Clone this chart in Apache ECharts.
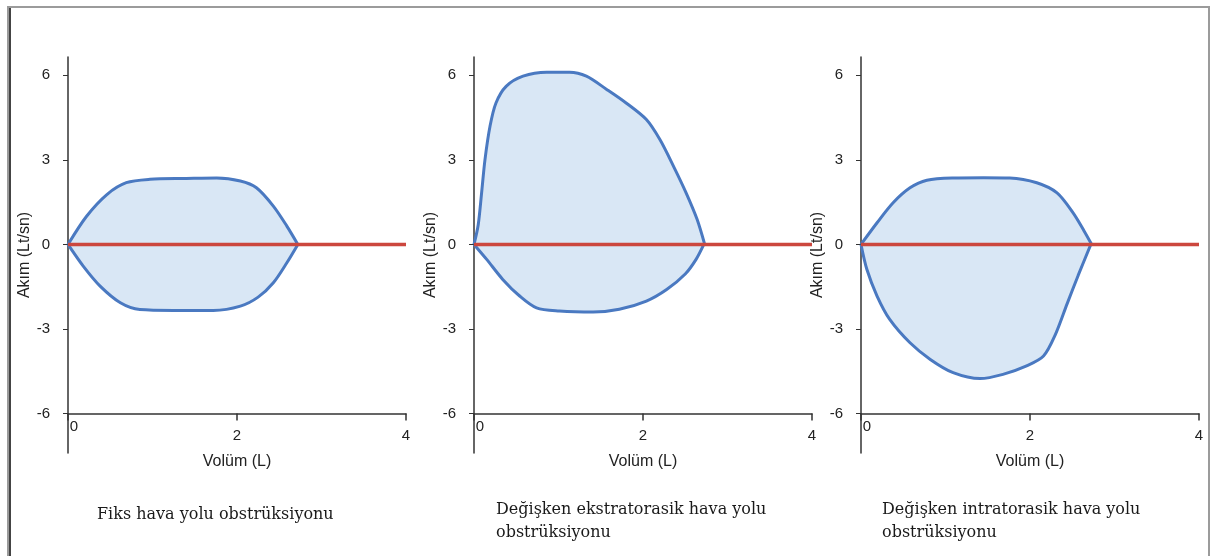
<!DOCTYPE html>
<html>
<head>
<meta charset="utf-8">
<script src="https://cdn.jsdelivr.net/npm/echarts@6/dist/echarts.min.js"></script>
<style>
  html, body { margin: 0; padding: 0; background: #fff; }
  #frame { position: absolute; left: 7px; top: 6px; width: 1199px; height: 560px;
           border: 2px solid #9b9b9b; box-shadow: inset 2px 0 0 #444; }
  #main { position: absolute; left: 0; top: 0; width: 1211px; height: 556px; }
</style>
</head>
<body>
<div id="frame"></div>
<div id="main"></div>
<script>
// [volume (L), flow (Lt/sn)]
var fiksUpper = [[0,0],[0.22,1.0],[0.46,1.77],[0.69,2.19],[0.97,2.31],[1.40,2.34],[1.76,2.36],[2.04,2.25],[2.23,2.01],[2.43,1.36],[2.59,0.65],[2.72,0]];
var fiksLower = [[0,0],[0.18,-0.77],[0.38,-1.48],[0.62,-2.07],[0.85,-2.31],[1.25,-2.34],[1.72,-2.34],[2.04,-2.19],[2.25,-1.87],[2.43,-1.36],[2.59,-0.65],[2.72,0]];

var ekstraUpper = [[0,0],[0.05,0.7],[0.09,1.83],[0.13,3.01],[0.19,4.20],[0.26,5.02],[0.38,5.61],[0.58,5.97],[0.86,6.11],[1.13,6.11],[1.33,5.97],[1.57,5.50],[1.80,5.02],[2.04,4.43],[2.20,3.72],[2.36,2.78],[2.51,1.83],[2.64,0.89],[2.73,0]];
var ekstraLower = [[0,0],[0.15,-0.53],[0.34,-1.24],[0.54,-1.83],[0.74,-2.25],[1.01,-2.36],[1.41,-2.40],[1.72,-2.30],[2.04,-2.01],[2.28,-1.60],[2.50,-1.05],[2.63,-0.52],[2.72,0]];

var intraUpper = [[0,0],[0.19,0.77],[0.38,1.48],[0.58,2.01],[0.78,2.28],[1.09,2.36],[1.45,2.37],[1.76,2.36],[2.08,2.19],[2.32,1.83],[2.51,1.12],[2.64,0.48],[2.73,0]];
var intraLower = [[0,0],[0.07,-0.89],[0.19,-1.83],[0.34,-2.66],[0.58,-3.49],[0.82,-4.08],[1.09,-4.55],[1.41,-4.76],[1.68,-4.61],[1.96,-4.31],[2.16,-3.96],[2.30,-3.20],[2.44,-2.10],[2.57,-1.10],[2.72,0]];

var baseline = [[0,0],[4,0]];
var yTicks = [-6, -3, 0, 3, 6];
var xTicks = [0, 2, 4];
var captions = [
    'Fiks hava yolu obstrüksiyonu',
    'Değişken ekstratorasik hava yolu\nobstrüksiyonu',
    'Değişken intratorasik hava yolu\nobstrüksiyonu'
];
var panels = [[fiksUpper, fiksLower], [ekstraUpper, ekstraLower], [intraUpper, intraLower]];

var myChart = echarts.init(document.getElementById('main'));
var gridLefts = [68, 474, 861];
var captionLefts = [97, 496, 882];
var captionTops = [503, 498, 498];

var grid = [], xAxis = [], yAxis = [], series = [], title = [];
var axisColor = '#333';
var labelStyle = {fontFamily: 'Liberation Sans', fontSize: 15, color: '#222'};
var nameStyle = {fontFamily: 'Liberation Sans', fontSize: 16, color: '#222'};

for (var i = 0; i < 3; i++) {
    grid.push({left: gridLefts[i], width: 338, top: 57, height: 396});
    // main x axis sits on y = -6
    xAxis.push({
        type: 'value', gridIndex: i, min: 0, max: 4, position: 'bottom', offset: -39.5,
        name: 'Volüm (L)', nameLocation: 'middle', nameGap: 40,
        nameTextStyle: nameStyle,
        splitLine: {show: false},
        axisLine: {show: true, onZero: false, lineStyle: {color: axisColor, width: 1.5}},
        axisTick: {show: true, length: 7, customValues: xTicks, lineStyle: {color: axisColor, width: 1.5}},
        axisLabel: Object.assign({margin: 15, customValues: [2, 4]}, labelStyle)
    });
    // the "0" volume label sits tucked under the origin
    xAxis.push({
        type: 'value', gridIndex: i, min: 0, max: 4, position: 'bottom', offset: -39.5,
        splitLine: {show: false}, axisLine: {show: false, onZero: false}, axisTick: {show: false},
        axisLabel: Object.assign({margin: 6, padding: [0, 0, 0, 12], customValues: [0]}, labelStyle)
    });
    yAxis.push({
        type: 'value', gridIndex: i, min: -7.4, max: 6.65,
        name: 'Akım (Lt/sn)', nameLocation: 'middle', nameGap: 34,
        nameTextStyle: nameStyle,
        splitLine: {show: false},
        axisLine: {show: true, onZero: false, lineStyle: {color: axisColor, width: 1.5}},
        axisTick: {show: true, length: 5, customValues: yTicks, lineStyle: {color: axisColor}},
        axisLabel: Object.assign({margin: 18, customValues: yTicks}, labelStyle)
    });
    for (var k = 0; k < 2; k++) {
        series.push({
            type: 'line', xAxisIndex: i * 2, yAxisIndex: i, data: panels[i][k],
            smooth: 0.3, showSymbol: false, silent: true,
            lineStyle: {color: '#4a79c1', width: 3},
            areaStyle: {color: '#d9e7f5', opacity: 1},
            z: 2
        });
    }
    series.push({
        type: 'line', xAxisIndex: i * 2, yAxisIndex: i, data: baseline,
        showSymbol: false, silent: true,
        lineStyle: {color: '#cc473e', width: 3.5},
        z: 3
    });
    title.push({
        text: captions[i], left: captionLefts[i], top: captionTops[i], padding: 0,
        textStyle: {fontFamily: 'DejaVu Serif', fontSize: 16, fontWeight: 'normal', color: '#1a1a1a', lineHeight: 23}
    });
}

option = {
    backgroundColor: 'transparent',
    animation: false,
    title: title,
    grid: grid,
    xAxis: xAxis,
    yAxis: yAxis,
    series: series
};
myChart.setOption(option);
</script>
</body>
</html>
